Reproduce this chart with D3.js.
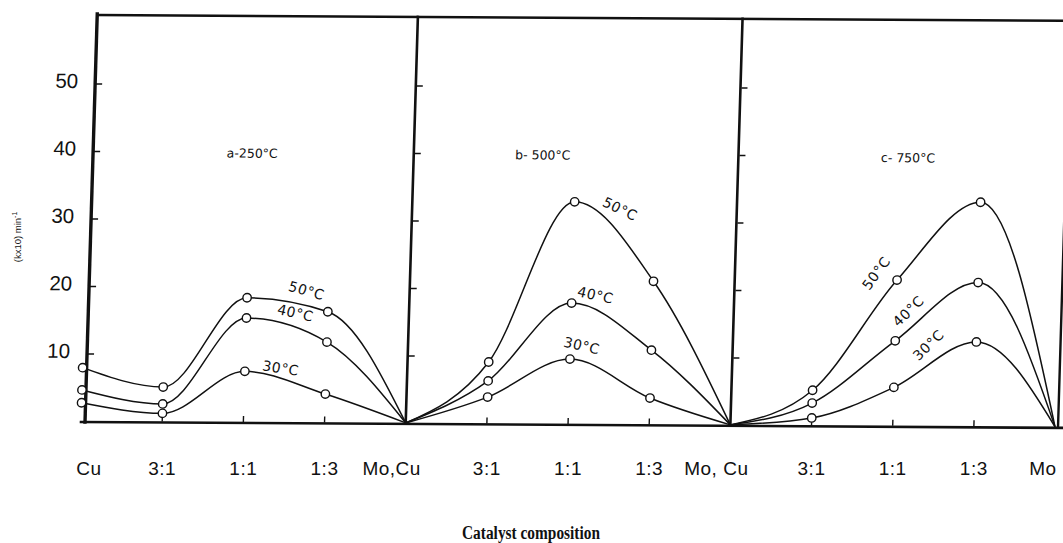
<!DOCTYPE html>
<html>
<head>
<meta charset="utf-8">
<script src="https://cdn.jsdelivr.net/npm/d3@7/dist/d3.min.js"></script>
<style>
  html, body { margin: 0; padding: 0; background: #fff; }
  svg { display: block; }
</style>
</head>
<body>
<svg id="chart" width="1063" height="543"></svg>
<script>
// Composition positions along the shared axis (three panels, boundaries shared)
const categories = ["Cu", "3:1", "1:1", "1:3", "Mo,Cu", "3:1", "1:1", "1:3", "Mo, Cu", "3:1", "1:1", "1:3", "Mo"];
const panelTitles = ["a-250\u00B0C", "b- 500\u00B0C", "c- 750\u00B0C"];
const temperatures = ["30\u00B0C", "40\u00B0C", "50\u00B0C"];
const yTicks = [10, 20, 30, 40, 50];

// Rate constants (k x 10, min^-1) at Cu, 3:1, 1:1, 1:3, Mo for each panel
const panelA30 = [2.7, 1.2, 7.5, 4.2, 0];
const panelA40 = [4.6, 2.6, 15.4, 11.9, 0];
const panelA50 = [7.9, 5.1, 18.4, 16.4, 0];
const panelB30 = [0, 3.9, 9.6, 3.9, 0];
const panelB40 = [0, 6.3, 17.9, 11.0, 0];
const panelB50 = [0, 9.1, 32.9, 21.2, 0];
const panelC30 = [0, 1.1, 5.7, 12.5, 0];
const panelC40 = [0, 3.3, 12.6, 21.3, 0];
const panelC50 = [0, 5.2, 21.6, 33.2, 0];

const panelSeries = [
  [panelA30, panelA40, panelA50],
  [panelB30, panelB40, panelB50],
  [panelC30, panelC40, panelC50]
];

// Curve label anchors: [position along axis, value, rotation]
const curveLabelAnchors = [
  [[2.44, 8.0, 8], [2.60, 16.2, 12], [2.73, 19.5, 15]],
  [[6.14, 11.6, 12], [6.29, 19.1, 12], [6.56, 31.9, 25]],
  [[10.41, 12.0, -45], [10.15, 17.0, -45], [9.74, 22.6, -55]]
];
const panelTitleAnchors = [[2.01, 39.8], [5.59, 39.8], [10.09, 39.7]];

const svg = d3.select("#chart");
const W = 1063, H = 543;
svg.append("rect").attr("width", W).attr("height", H).attr("fill", "#fff");

const x = d3.scaleLinear().domain([0, 12]).range([81, 1055]);
const y = d3.scaleLinear().domain([0, 60]).range([421, 16]);

// Slightly skewed frame, as in the printed figure
const k = 0.03, b = 0.006, ox = 85, oy = 422;
const g = svg.append("g")
  .attr("transform", `matrix(1, ${b}, ${-k}, 1, ${k * oy}, ${-b * ox})`);

const ink = "#111";
const axisX = x(0) + 4;

// Frame
const frame = g.append("g").attr("stroke", ink).attr("fill", "none").attr("stroke-linecap", "square");
frame.append("line").attr("x1", axisX).attr("x2", axisX).attr("y1", y(0) + 1).attr("y2", y(60) - 2).attr("stroke-width", 3.4);
[4, 8].forEach(i => {
  frame.append("line").attr("x1", x(i)).attr("x2", x(i)).attr("y1", y(0)).attr("y2", y(60) - 1).attr("stroke-width", 2.6);
});
frame.append("line").attr("x1", x(12) + 3).attr("x2", x(12) + 3).attr("y1", y(0)).attr("y2", y(60) - 1).attr("stroke-width", 2.4);
frame.append("line").attr("x1", axisX).attr("x2", x(12) + 30).attr("y1", y(60) - 1).attr("y2", y(60) - 1).attr("stroke-width", 2.4);
frame.append("line").attr("x1", x(0)).attr("x2", x(12) + 30).attr("y1", y(0) + 1).attr("y2", y(0) + 1).attr("stroke-width", 2.6);

// Y axis with inward ticks
const yAxis = g.append("g").attr("transform", `translate(${axisX},0)`)
  .call(d3.axisLeft(y).tickValues(yTicks).tickSize(-7).tickPadding(17));
yAxis.select(".domain").remove();
yAxis.selectAll(".tick line").attr("stroke", ink).attr("stroke-width", 1.6);
yAxis.selectAll(".tick text")
  .attr("fill", ink)
  .attr("font-family", "'Liberation Sans', Arial, sans-serif")
  .attr("font-size", 20.5)
  .attr("dy", "0.2em");

// Inward ticks on the panel borders
[4, 8].forEach(i => {
  const a = g.append("g").attr("transform", `translate(${x(i) + 1},0)`)
    .call(d3.axisLeft(y).tickValues(yTicks).tickSize(-6).tickFormat(() => ""));
  a.select(".domain").remove();
  a.selectAll(".tick line").attr("stroke", ink).attr("stroke-width", 1.5);
});

// Inward ticks along the composition axis
const xTickIdx = d3.range(13).filter(i => i % 4 !== 0);
g.append("g").selectAll("line").data(xTickIdx).join("line")
  .attr("x1", d => x(d)).attr("x2", d => x(d))
  .attr("y1", y(0)).attr("y2", y(0) - 6)
  .attr("stroke", ink).attr("stroke-width", 1.4);

// Curves and measured points
const line = d3.line().curve(d3.curveMonotoneX);
panelSeries.forEach((series, p) => {
  const offset = p * 4;
  series.forEach((vals, s) => {
    const pts = vals.map((v, i) => [x(offset + i), y(v)]);
    g.append("path")
      .attr("d", line(pts))
      .attr("fill", "none")
      .attr("stroke", ink)
      .attr("stroke-width", 1.5);
    g.append("g").selectAll("circle")
      .data(vals.map((v, i) => ({ v, i })).filter(d => d.v > 0))
      .join("circle")
      .attr("cx", d => x(offset + d.i))
      .attr("cy", d => y(d.v))
      .attr("r", 4.2)
      .attr("fill", "#fff")
      .attr("stroke", ink)
      .attr("stroke-width", 1.4);
  });

  // Temperature labels on each curve
  curveLabelAnchors[p].forEach((an, s) => {
    g.append("text")
      .attr("transform", `translate(${x(an[0])},${y(an[1])}) rotate(${an[2]})`)
      .attr("text-anchor", "middle")
      .attr("dy", "0.35em")
      .attr("font-family", "'DejaVu Sans', sans-serif")
      .attr("font-size", 14)
      .attr("letter-spacing", 0.5)
      .attr("fill", ink)
      .text(temperatures[s]);
  });

  // Panel title
  g.append("text")
    .attr("x", x(panelTitleAnchors[p][0]))
    .attr("y", y(panelTitleAnchors[p][1]))
    .attr("dy", "0.35em")
    .attr("text-anchor", "middle")
    .attr("font-family", "'DejaVu Sans', sans-serif")
    .attr("font-size", 12.5)
    .attr("fill", ink)
    .text(panelTitles[p]);
});

// Composition labels
svg.append("g").selectAll("text").data(categories).join("text")
  .attr("x", (d, i) => x(i) + (i === 0 ? 8 : i === 12 ? -12 : i % 4 === 0 ? -14 : 0))
  .attr("y", 475)
  .attr("text-anchor", "middle")
  .attr("font-family", "'Liberation Sans Narrow', 'Liberation Sans', Arial, sans-serif")
  .attr("font-size", 19)
  .attr("letter-spacing", 0.5)
  .attr("fill", ink)
  .text(d => d);

// Y axis label
svg.append("text")
  .attr("transform", "translate(21,237) rotate(-90)")
  .attr("text-anchor", "middle")
  .attr("font-family", "'Liberation Sans', Arial, sans-serif")
  .attr("font-size", 9.5)
  .attr("fill", ink)
  .html("(kx10) min<tspan dy='-4' font-size='7'>-1</tspan>");

// Axis title
svg.append("text")
  .attr("x", 531)
  .attr("y", 539)
  .attr("text-anchor", "middle")
  .attr("font-family", "'Liberation Serif', 'Times New Roman', serif")
  .attr("font-weight", "bold")
  .attr("font-size", 18.5)
  .attr("textLength", 138)
  .attr("lengthAdjust", "spacingAndGlyphs")
  .attr("fill", ink)
  .text("Catalyst composition");
</script>
</body>
</html>
